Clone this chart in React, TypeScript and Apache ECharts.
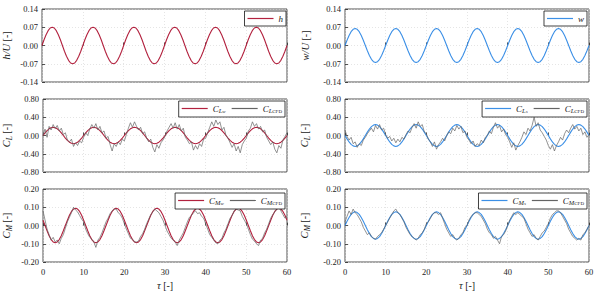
import React, { useEffect, useRef } from 'react';
import * as echarts from 'echarts';

const FONT = "'Liberation Serif', 'Times New Roman', serif";
const TAU_STEP = 0.5;

const H_U = [
  0, 0.022, 0.041, 0.057, 0.067, 0.070, 0.067, 0.057, 0.041, 0.022, 0, -0.022, -0.041, -0.057, -0.067, -0.070, -0.067, -0.057, -0.041, -0.022,
  0, 0.022, 0.041, 0.057, 0.067, 0.070, 0.067, 0.057, 0.041, 0.022, 0, -0.022, -0.041, -0.057, -0.067, -0.070, -0.067, -0.057, -0.041, -0.022,
  0, 0.022, 0.041, 0.057, 0.067, 0.070, 0.067, 0.057, 0.041, 0.022, 0, -0.022, -0.041, -0.057, -0.067, -0.070, -0.067, -0.057, -0.041, -0.022,
  0, 0.022, 0.041, 0.057, 0.067, 0.070, 0.067, 0.057, 0.041, 0.022, 0, -0.022, -0.041, -0.057, -0.067, -0.070, -0.067, -0.057, -0.041, -0.022,
  0, 0.022, 0.041, 0.057, 0.067, 0.070, 0.067, 0.057, 0.041, 0.022, 0, -0.022, -0.041, -0.057, -0.067, -0.070, -0.067, -0.057, -0.041, -0.022,
  0, 0.022, 0.041, 0.057, 0.067, 0.070, 0.067, 0.057, 0.041, 0.022, 0, -0.022, -0.041, -0.057, -0.067, -0.070, -0.067, -0.057, -0.041, -0.022,
  0,
];

const W_U = [
  0, 0.020, 0.038, 0.053, 0.062, 0.065, 0.062, 0.053, 0.038, 0.020, 0, -0.020, -0.038, -0.053, -0.062, -0.065, -0.062, -0.053, -0.038, -0.020,
  0, 0.020, 0.038, 0.053, 0.062, 0.065, 0.062, 0.053, 0.038, 0.020, 0, -0.020, -0.038, -0.053, -0.062, -0.065, -0.062, -0.053, -0.038, -0.020,
  0, 0.020, 0.038, 0.053, 0.062, 0.065, 0.062, 0.053, 0.038, 0.020, 0, -0.020, -0.038, -0.053, -0.062, -0.065, -0.062, -0.053, -0.038, -0.020,
  0, 0.020, 0.038, 0.053, 0.062, 0.065, 0.062, 0.053, 0.038, 0.020, 0, -0.020, -0.038, -0.053, -0.062, -0.065, -0.062, -0.053, -0.038, -0.020,
  0, 0.020, 0.038, 0.053, 0.062, 0.065, 0.062, 0.053, 0.038, 0.020, 0, -0.020, -0.038, -0.053, -0.062, -0.065, -0.062, -0.053, -0.038, -0.020,
  0, 0.020, 0.038, 0.053, 0.062, 0.065, 0.062, 0.053, 0.038, 0.020, 0, -0.020, -0.038, -0.053, -0.062, -0.065, -0.062, -0.053, -0.038, -0.020,
  0,
];

const CL_W = [
  0, 0.056, 0.106, 0.146, 0.171, 0.180, 0.171, 0.146, 0.106, 0.056, 0, -0.056, -0.106, -0.146, -0.171, -0.180, -0.171, -0.146, -0.106, -0.056,
  0, 0.056, 0.106, 0.146, 0.171, 0.180, 0.171, 0.146, 0.106, 0.056, 0, -0.056, -0.106, -0.146, -0.171, -0.180, -0.171, -0.146, -0.106, -0.056,
  0, 0.056, 0.106, 0.146, 0.171, 0.180, 0.171, 0.146, 0.106, 0.056, 0, -0.056, -0.106, -0.146, -0.171, -0.180, -0.171, -0.146, -0.106, -0.056,
  0, 0.056, 0.106, 0.146, 0.171, 0.180, 0.171, 0.146, 0.106, 0.056, 0, -0.056, -0.106, -0.146, -0.171, -0.180, -0.171, -0.146, -0.106, -0.056,
  0, 0.056, 0.106, 0.146, 0.171, 0.180, 0.171, 0.146, 0.106, 0.056, 0, -0.056, -0.106, -0.146, -0.171, -0.180, -0.171, -0.146, -0.106, -0.056,
  0, 0.056, 0.106, 0.146, 0.171, 0.180, 0.171, 0.146, 0.106, 0.056, 0, -0.056, -0.106, -0.146, -0.171, -0.180, -0.171, -0.146, -0.106, -0.056,
  0,
];

const CL_CFD_LEFT = [
  0.00, 0.14, -0.04, 0.20, 0.12, 0.24, 0.15, 0.22, 0.10, 0.16, 0.02, 0.06, -0.10, -0.14, -0.08, -0.24, -0.16, -0.22, -0.12, -0.16,
  -0.04, 0.06, 0.00, 0.14, 0.24, 0.16, 0.26, 0.12, 0.20, 0.06, 0.10, -0.06, -0.02, -0.20, -0.34, -0.18, -0.24, -0.14, -0.20, -0.08,
  -0.12, 0.02, 0.16, 0.28, 0.18, 0.30, 0.20, 0.12, 0.18, 0.04, 0.08, -0.06, -0.14, -0.08, -0.26, -0.36, -0.20, -0.28, -0.16, -0.10,
  -0.02, 0.10, 0.18, 0.26, 0.16, 0.28, 0.14, 0.24, 0.10, 0.16, -0.04, -0.10, -0.18, -0.14, -0.32, -0.22, -0.30, -0.18, -0.24, -0.08,
  -0.06, 0.06, 0.18, 0.30, 0.20, 0.34, 0.24, 0.30, 0.12, 0.18, 0.00, -0.06, -0.16, -0.26, -0.18, -0.34, -0.24, -0.38, -0.20, -0.12,
  -0.06, 0.10, 0.16, 0.30, 0.20, 0.26, 0.14, 0.20, 0.08, 0.12, -0.04, -0.12, -0.20, -0.14, -0.30, -0.38, -0.22, -0.28, -0.10, -0.02,
  0.06,
];

const CL_S = [
  0, -0.074, -0.141, -0.194, -0.228, -0.240, -0.228, -0.194, -0.141, -0.074, 0, 0.074, 0.141, 0.194, 0.228, 0.240, 0.228, 0.194, 0.141, 0.074,
  0, -0.074, -0.141, -0.194, -0.228, -0.240, -0.228, -0.194, -0.141, -0.074, 0, 0.074, 0.141, 0.194, 0.228, 0.240, 0.228, 0.194, 0.141, 0.074,
  0, -0.074, -0.141, -0.194, -0.228, -0.240, -0.228, -0.194, -0.141, -0.074, 0, 0.074, 0.141, 0.194, 0.228, 0.240, 0.228, 0.194, 0.141, 0.074,
  0, -0.074, -0.141, -0.194, -0.228, -0.240, -0.228, -0.194, -0.141, -0.074, 0, 0.074, 0.141, 0.194, 0.228, 0.240, 0.228, 0.194, 0.141, 0.074,
  0, -0.074, -0.141, -0.194, -0.228, -0.240, -0.228, -0.194, -0.141, -0.074, 0, 0.074, 0.141, 0.194, 0.228, 0.240, 0.228, 0.194, 0.141, 0.074,
  0, -0.074, -0.141, -0.194, -0.228, -0.240, -0.228, -0.194, -0.141, -0.074, 0, 0.074, 0.141, 0.194, 0.228, 0.240, 0.228, 0.194, 0.141, 0.074,
  0,
];

const CL_CFD_RIGHT = [
  0.12, -0.02, -0.10, -0.04, -0.18, -0.14, -0.26, -0.18, -0.22, -0.10, -0.04, 0.04, 0.10, 0.16, 0.08, 0.22, 0.14, 0.24, 0.12, 0.16,
  0.02, -0.06, -0.02, -0.12, -0.06, -0.16, -0.08, -0.14, -0.04, -0.08, 0.02, 0.10, 0.06, 0.18, 0.26, 0.16, 0.30, 0.20, 0.24, 0.08,
  0.04, -0.08, -0.14, -0.24, -0.14, -0.30, -0.20, -0.14, -0.06, -0.12, 0.00, 0.08, 0.04, 0.16, 0.10, 0.22, 0.14, 0.20, 0.06, 0.10,
  -0.04, -0.10, -0.18, -0.12, -0.24, -0.18, -0.22, -0.10, -0.16, -0.04, 0.00, 0.10, 0.04, 0.18, 0.28, 0.16, 0.22, 0.08, 0.14, 0.02,
  -0.04, -0.14, -0.26, -0.16, -0.32, -0.22, -0.14, -0.04, 0.08, 0.02, 0.16, 0.10, 0.22, 0.40, 0.20, 0.28, 0.12, 0.06, -0.02, -0.10,
  -0.22, -0.30, -0.20, -0.34, -0.22, -0.14, -0.04, -0.10, 0.04, 0.12, 0.06, 0.16, 0.24, 0.14, 0.20, 0.10, 0.16, 0.02, 0.08, -0.04,
  0.02,
];

const CM_W = [
  0.029, 0, -0.029, -0.056, -0.077, -0.090, -0.095, -0.090, -0.077, -0.056, -0.029, 0, 0.029, 0.056, 0.077, 0.090, 0.095, 0.090, 0.077, 0.056,
  0.029, 0, -0.029, -0.056, -0.077, -0.090, -0.095, -0.090, -0.077, -0.056, -0.029, 0, 0.029, 0.056, 0.077, 0.090, 0.095, 0.090, 0.077, 0.056,
  0.029, 0, -0.029, -0.056, -0.077, -0.090, -0.095, -0.090, -0.077, -0.056, -0.029, 0, 0.029, 0.056, 0.077, 0.090, 0.095, 0.090, 0.077, 0.056,
  0.029, 0, -0.029, -0.056, -0.077, -0.090, -0.095, -0.090, -0.077, -0.056, -0.029, 0, 0.029, 0.056, 0.077, 0.090, 0.095, 0.090, 0.077, 0.056,
  0.029, 0, -0.029, -0.056, -0.077, -0.090, -0.095, -0.090, -0.077, -0.056, -0.029, 0, 0.029, 0.056, 0.077, 0.090, 0.095, 0.090, 0.077, 0.056,
  0.029, 0, -0.029, -0.056, -0.077, -0.090, -0.095, -0.090, -0.077, -0.056, -0.029, 0, 0.029, 0.056, 0.077, 0.090, 0.095, 0.090, 0.077, 0.056,
  0.029,
];

const CM_CFD_LEFT = [
  0.08, 0.03, -0.02, -0.05, -0.08, -0.065, -0.09, -0.08, -0.10, -0.07, -0.05, -0.015, 0.02, 0.045, 0.07, 0.10, 0.085, 0.075, 0.055, 0.035,
  0.02, -0.02, -0.045, -0.065, -0.075, -0.09, -0.12, -0.08, -0.065, -0.04, -0.01, 0.02, 0.04, 0.065, 0.08, 0.09, 0.09, 0.07, 0.06, 0.04,
  0.01, -0.02, -0.045, -0.07, -0.075, -0.09, -0.09, -0.085, -0.06, -0.045, -0.02, 0.01, 0.035, 0.06, 0.075, 0.09, 0.08, 0.07, 0.05, 0.03,
  0.00, -0.03, -0.05, -0.07, -0.08, -0.09, -0.11, -0.08, -0.06, -0.04, -0.01, 0.02, 0.045, 0.055, 0.07, 0.08, 0.065, 0.07, 0.05, 0.04,
  0.01, -0.02, -0.05, -0.065, -0.08, -0.095, -0.10, -0.08, -0.07, -0.04, -0.02, 0.01, 0.04, 0.055, 0.08, 0.09, 0.085, 0.08, 0.05, 0.03,
  0.01, -0.02, -0.05, -0.075, -0.085, -0.10, -0.11, -0.08, -0.07, -0.04, -0.02, 0.01, 0.04, 0.06, 0.075, 0.09, 0.10, 0.08, 0.06, 0.04,
  0.05,
];

const CM_S = [
  0, 0.023, 0.044, 0.061, 0.071, 0.075, 0.071, 0.061, 0.044, 0.023, 0, -0.023, -0.044, -0.061, -0.071, -0.075, -0.071, -0.061, -0.044, -0.023,
  0, 0.023, 0.044, 0.061, 0.071, 0.075, 0.071, 0.061, 0.044, 0.023, 0, -0.023, -0.044, -0.061, -0.071, -0.075, -0.071, -0.061, -0.044, -0.023,
  0, 0.023, 0.044, 0.061, 0.071, 0.075, 0.071, 0.061, 0.044, 0.023, 0, -0.023, -0.044, -0.061, -0.071, -0.075, -0.071, -0.061, -0.044, -0.023,
  0, 0.023, 0.044, 0.061, 0.071, 0.075, 0.071, 0.061, 0.044, 0.023, 0, -0.023, -0.044, -0.061, -0.071, -0.075, -0.071, -0.061, -0.044, -0.023,
  0, 0.023, 0.044, 0.061, 0.071, 0.075, 0.071, 0.061, 0.044, 0.023, 0, -0.023, -0.044, -0.061, -0.071, -0.075, -0.071, -0.061, -0.044, -0.023,
  0, 0.023, 0.044, 0.061, 0.071, 0.075, 0.071, 0.061, 0.044, 0.023, 0, -0.023, -0.044, -0.061, -0.071, -0.075, -0.071, -0.061, -0.044, -0.023,
  0,
];

const CM_CFD_RIGHT = [
  0.02, 0.05, 0.08, 0.06, 0.09, 0.07, 0.06, 0.04, 0.02, -0.01, -0.03, -0.05, -0.04, -0.06, -0.07, -0.075, -0.06, -0.05, -0.04, -0.02,
  0.00, 0.02, 0.04, 0.06, 0.08, 0.09, 0.07, 0.06, 0.04, 0.02, -0.01, -0.03, -0.05, -0.06, -0.07, -0.08, -0.07, -0.05, -0.04, -0.02,
  0.01, 0.02, 0.04, 0.06, 0.07, 0.07, 0.06, 0.07, 0.04, 0.01, -0.02, -0.04, -0.06, -0.05, -0.07, -0.08, -0.07, -0.05, -0.04, -0.01,
  0.00, 0.03, 0.05, 0.06, 0.07, 0.07, 0.06, 0.05, 0.03, 0.01, -0.02, -0.04, -0.05, -0.07, -0.06, -0.08, -0.10, -0.06, -0.05, -0.03,
  0.00, 0.03, 0.05, 0.07, 0.06, 0.07, 0.06, 0.05, 0.04, 0.01, -0.02, -0.04, -0.06, -0.05, -0.07, -0.08, -0.06, -0.04, -0.03, -0.01,
  0.01, 0.04, 0.06, 0.07, 0.08, 0.08, 0.07, 0.05, 0.03, 0.01, -0.02, -0.04, -0.06, -0.07, -0.08, -0.07, -0.08, -0.05, -0.04, -0.02,
  0.00,
];

const TICKS_TOP = { min: -0.14, max: 0.14, interval: 0.07 };
const TICKS_CL = { min: -0.8, max: 0.8, interval: 0.4 };
const TICKS_CM = { min: -0.2, max: 0.2, interval: 0.1 };

const RED = '#b2213e';
const BLUE = '#3b8fe6';
const GRAY = '#646464';

const pairs = (arr: number[]) => arr.map((v, i) => [i * TAU_STEP, v]);

const richBase = {
  i: { fontFamily: FONT, fontStyle: 'italic', fontSize: 9, color: '#222' },
  s: { fontFamily: FONT, fontStyle: 'italic', fontSize: 6.5, color: '#222', verticalAlign: 'bottom', padding: [4, 0, 0, 0] },
  ss: { fontFamily: FONT, fontStyle: 'italic', fontSize: 5, color: '#222', verticalAlign: 'bottom', padding: [6, 0, 0, 0] },
  r: { fontFamily: FONT, fontSize: 5, color: '#222', verticalAlign: 'bottom', padding: [6, 0, 0, 0] },
  n: { fontFamily: FONT, fontSize: 9, color: '#222' },
};

const LEGEND_LABELS: Record<string, string> = {
  h: '{i|h}',
  w: '{i|w}',
  CLw: '{i|C}{s|L}{ss|w}',
  CLCFDl: '{i|C}{s|L}{r|CFD}',
  CLs: '{i|C}{s|L}{ss|s}',
  CLCFDr: '{i|C}{s|L}{r|CFD}',
  CMw: '{i|C}{s|M}{ss|w}',
  CMCFDl: '{i|C}{s|M}{r|CFD}',
  CMs: '{i|C}{s|M}{ss|s}',
  CMCFDr: '{i|C}{s|M}{r|CFD}',
};

export default function App() {
  const ref = useRef<HTMLDivElement>(null);

  useEffect(() => {
    document.body.style.margin = '0';
    if (!ref.current) return;
    const chart = echarts.init(ref.current, null, { renderer: 'svg' });

    const lefts = [41, 41, 41, 345, 345, 345];
    const widths = [246, 246, 246, 244, 244, 244];
    const tops = [9, 99, 189, 9, 99, 189];
    const ticks = [TICKS_TOP, TICKS_CL, TICKS_CM, TICKS_TOP, TICKS_CL, TICKS_CM];
    const yNames = [
      '{i|h/U} {n|[-]}',
      '{i|C}{s|L} {n|[-]}',
      '{i|C}{s|M} {n|[-]}',
      '{i|w/U} {n|[-]}',
      '{i|C}{s|L} {n|[-]}',
      '{i|C}{s|M} {n|[-]}',
    ];

    const grid = lefts.map((l, k) => ({
      left: l,
      top: tops[k],
      width: widths[k],
      height: 73,
      show: true,
      borderColor: '#262626',
      borderWidth: 0.8,
      backgroundColor: '#fff',
    }));

    const xAxis = lefts.map((_, k) => {
      const bottom = k === 2 || k === 5;
      return {
        type: 'value',
        gridIndex: k,
        min: 0,
        max: 60,
        interval: 10,
        axisLine: { show: false },
        axisTick: { show: true, inside: true, length: 3, lineStyle: { color: '#262626', width: 0.8 } },
        axisLabel: {
          show: bottom,
          fontFamily: FONT,
          fontSize: 8.5,
          color: '#222',
          margin: 5,
        },
        splitLine: { show: true, lineStyle: { color: '#d4d4d4', width: 0.6, type: [1, 2] } },
        name: bottom ? '{i|τ} {n|[-]}' : '',
        nameLocation: 'middle',
        nameGap: 18,
        nameTextStyle: { fontFamily: FONT, fontSize: 10, rich: { i: { ...richBase.i, fontSize: 10.5 }, n: { ...richBase.n, fontSize: 10 } } },
      };
    });

    const yAxis = lefts.map((_, k) => ({
      type: 'value',
      gridIndex: k,
      min: ticks[k].min,
      max: ticks[k].max,
      interval: ticks[k].interval,
      axisLine: { show: false },
      axisTick: { show: true, inside: true, length: 3, lineStyle: { color: '#262626', width: 0.8 } },
      axisLabel: {
        fontFamily: FONT,
        fontSize: 8.5,
        color: '#222',
        margin: 4,
        formatter: (v: number) => (Math.abs(v) < 1e-9 ? '0.00' : v.toFixed(2)),
      },
      splitLine: { show: true, lineStyle: { color: '#d4d4d4', width: 0.6, type: [1, 2] } },
      name: yNames[k],
      nameLocation: 'middle',
      nameRotate: 90,
      nameGap: k < 3 ? 30 : 34,
      nameTextStyle: {
        fontFamily: FONT,
        fontSize: 10,
        rich: {
          i: { ...richBase.i, fontSize: 10.5 },
          s: { ...richBase.s, fontSize: 7.5, padding: [5, 0, 0, 0] },
          n: { ...richBase.n, fontSize: 10 },
        },
      },
    }));

    const mk = (name: string, data: number[], idx: number, color: string, width: number) => ({
      name,
      type: 'line',
      xAxisIndex: idx,
      yAxisIndex: idx,
      data: pairs(data),
      symbol: 'none',
      showSymbol: false,
      lineStyle: { color, width },
      itemStyle: { color },
      silent: true,
    });

    const series = [
      mk('h', H_U, 0, RED, 1.1),
      mk('CLw', CL_W, 1, RED, 1.1),
      mk('CLCFDl', CL_CFD_LEFT, 1, GRAY, 0.7),
      mk('CMw', CM_W, 2, RED, 1.1),
      mk('CMCFDl', CM_CFD_LEFT, 2, GRAY, 0.7),
      mk('w', W_U, 3, BLUE, 1.1),
      mk('CLs', CL_S, 4, BLUE, 1.1),
      mk('CLCFDr', CL_CFD_RIGHT, 4, GRAY, 0.7),
      mk('CMs', CM_S, 5, BLUE, 1.1),
      mk('CMCFDr', CM_CFD_RIGHT, 5, GRAY, 0.7),
    ];

    const legendBase = {
      orient: 'horizontal',
      icon: 'rect',
      itemWidth: 26,
      itemHeight: 1.2,
      itemGap: 6,
      padding: [3, 3, 3, 3],
      backgroundColor: '#fff',
      borderColor: '#111',
      borderWidth: 0.8,
      borderRadius: 0,
      selectedMode: false,
      textStyle: { fontFamily: FONT, fontSize: 9, color: '#222', rich: richBase },
      formatter: (n: string) => LEGEND_LABELS[n] || n,
    };

    const legend = [
      { ...legendBase, data: ['h'], right: 312, top: 11 },
      { ...legendBase, data: ['CLw', 'CLCFDl'], right: 313, top: 101 },
      { ...legendBase, data: ['CMw', 'CMCFDl'], right: 313, top: 193 },
      { ...legendBase, data: ['w'], right: 11, top: 11 },
      { ...legendBase, data: ['CLs', 'CLCFDr'], right: 11, top: 101 },
      { ...legendBase, data: ['CMs', 'CMCFDr'], right: 11, top: 193 },
    ];

    chart.setOption({
      animation: false,
      backgroundColor: '#fff',
      grid,
      xAxis,
      yAxis,
      legend,
      series,
    });

    return () => chart.dispose();
  }, []);

  return <div ref={ref} style={{ width: 598, height: 292 }} />;
}
